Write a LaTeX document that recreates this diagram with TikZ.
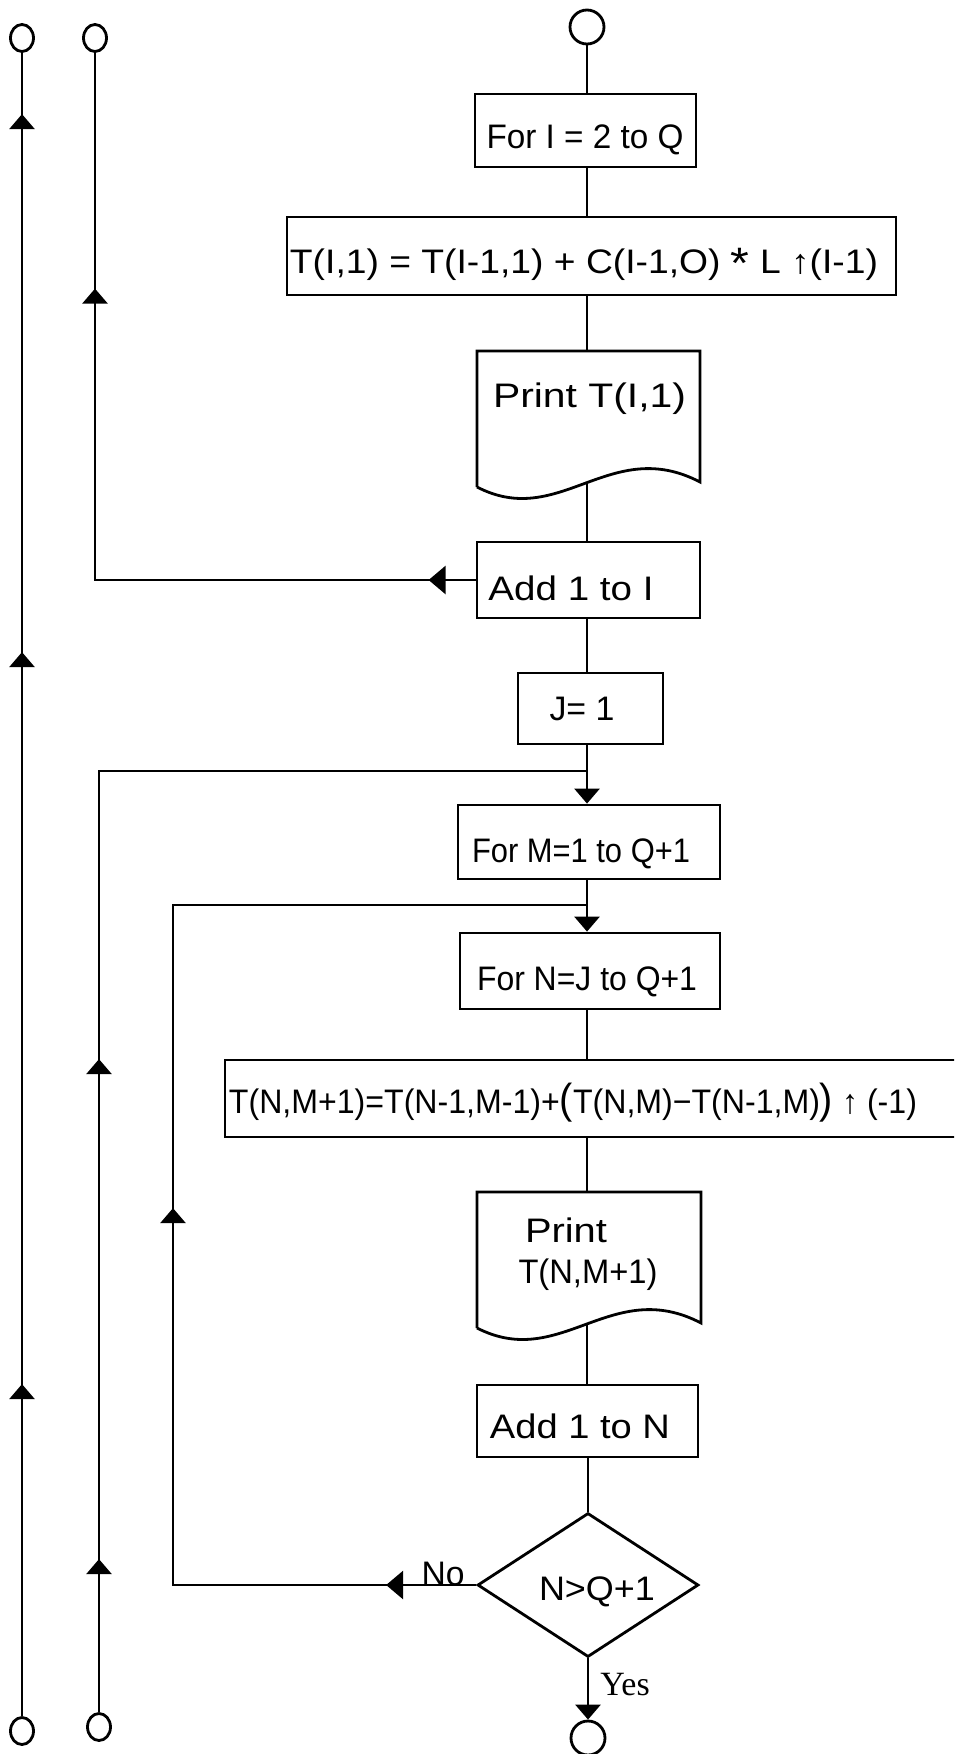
\documentclass[tikz,border=0pt]{standalone}
\usepackage{fontspec}
\setmainfont{Liberation Sans}
\newfontfamily\serifyes{Liberation Serif}
\usetikzlibrary{arrows.meta,shapes.geometric,decorations.markings,calc}
\newcommand{\fitwd}[2]{\resizebox{#1}{\height}{#2}}
\newcommand{\bigp}[1]{{\fontsize{42}{42}\selectfont #1}}
\tikzset{
  uptip/.tip={Triangle[width=25pt,length=15pt]},
  lefttip/.tip={Triangle[width=28pt,length=17pt]},
  fbox/.style={draw,inner sep=0pt},
  conn/.style={draw,circle,inner sep=0pt,minimum size=34pt},
  lconn/.style={draw,ellipse,inner sep=0pt,minimum width=23pt,minimum height=27pt},
  lbl/.style={anchor=base,inner sep=0pt,font=\fontsize{34}{36}\selectfont},
  tip/.style={-{Triangle[width=25pt,length=15pt]}}
}
\begin{document}
\begin{tikzpicture}[x=1pt,y=-1pt,line width=2.8pt]
\useasboundingbox (0,0) rectangle (954,1754);
\clip (0,0) rectangle (954,1754);
\coordinate (mx) at (587,0);
\coordinate (x3) at (173,0);
\coordinate (jM) at (587,771);
\coordinate (jN) at (587,905);

% main column
\node[conn] (topC) at (587,27) {};
\node[fbox,minimum width=221pt,minimum height=73pt] (forI) at (585.5,130.5) {};
\node[lbl] (forIt) at (585,148) {\fitwd{197pt}{For I = 2 to Q}};
\node[fbox,minimum width=609pt,minimum height=78pt] (tI1) at (591.5,256) {};
\node[lbl] (tI1t) at (584,273) {\fitwd{588pt}{T(I,1) = T(I-1,1) + C(I-1,O) \raisebox{-0.3ex}{\fontsize{44}{44}\selectfont *} L ↑(I-1)}};
\node[inner sep=0pt,minimum width=223pt,minimum height=136pt] (printI) at (588.5,419) {};
\draw (477,487) -- (477,351) -- (700,351) -- (700,482) .. controls (610,435) and (560,530) .. (477,487);
\node[lbl] (printIt) at (589.5,407) {\fitwd{193pt}{Print T(I,1)}};
\coordinate (w1) at (587,483);
\node[fbox,minimum width=223pt,minimum height=76pt] (addI) at (588.5,580) {};
\node[lbl] (addIt) at (571,600) {\fitwd{165pt}{Add 1 to I}};
\node[fbox,minimum width=145pt,minimum height=71pt] (J1) at (590.5,708.5) {};
\node[lbl] (J1t) at (582,720) {\fitwd{65pt}{J= 1}};
\node[fbox,minimum width=262pt,minimum height=74pt] (forM) at (589,842) {};
\node[lbl] (forMt) at (581,862) {\fitwd{218pt}{For M=1 to Q+1}};
\node[fbox,minimum width=260pt,minimum height=76pt] (forN) at (590,971) {};
\node[lbl] (forNt) at (587,990) {\fitwd{220pt}{For N=J to Q+1}};
\node[fbox,minimum width=740pt,minimum height=77pt] (form) at (595,1098.5) {};
\node[lbl] (formt) at (573,1113) {\fitwd{688pt}{T(N,M+1)=T(N-1,M-1)+\bigp{(}T(N,M)−T(N-1,M)\bigp{)} ↑ (-1)}};
\node[inner sep=0pt,minimum width=224pt,minimum height=136pt] (printN) at (589,1260) {};
\draw (477,1328) -- (477,1192) -- (701,1192) -- (701,1323) .. controls (611,1276) and (561,1371) .. (477,1328);
\node[lbl] (printNa) at (566,1242) {\fitwd{82pt}{Print}};
\node[lbl] (printNb) at (588,1283) {\fitwd{139pt}{T(N,M+1)}};
\coordinate (w2) at (587,1324);
\node[fbox,minimum width=221pt,minimum height=72pt] (addN) at (587.5,1421) {};
\node[lbl] (addNt) at (580,1438) {\fitwd{180pt}{Add 1 to N}};
\node[fbox,diamond,aspect=1.5,minimum width=221pt,minimum height=144pt] (dec) at (588,1585) {};
\node[lbl] (dect) at (597,1600) {\fitwd{116pt}{N>Q+1}};
\node[conn] (botC) at (588,1738) {};
\node[lbl] (no) at (443,1585) {\fitwd{43pt}{No}};
\node[lbl,font=\serifyes\fontsize{34}{36}\selectfont] (yes) at (625,1695) {Yes};

% main connectors
\draw (topC.south) -- (forI.north -| mx);
\draw (forI.south -| mx) -- (tI1.north -| mx);
\draw (tI1.south -| mx) -- (printI.north -| mx);
\draw (w1) -- (addI.north -| mx);
\draw (addI.south -| mx) -- (J1.north -| mx);
\draw[tip] (J1.south -| mx) -- (forM.north -| mx);
\draw[tip] (forM.south -| mx) -- (forN.north -| mx);
\draw (forN.south -| mx) -- (form.north -| mx);
\draw (form.south -| mx) -- (printN.north -| mx);
\draw (w2) -- (addN.north -| mx);
\draw (addN.south -| dec.north) -- (dec.north);
\draw[tip] (dec.south) -- (botC.north);

% left connectors
\node[lconn] (c1t) at (22,38) {};
\node[lconn] (c1b) at (22,1731) {};
\node[lconn] (c2t) at (95,38) {};
\node[lconn] (c2b) at (99,1727) {};

\draw[postaction={decorate},decoration={markings,
   mark=at position 332pt with {\arrow{uptip}},
   mark=at position 1064pt with {\arrow{uptip}},
   mark=at position 1602pt with {\arrow{uptip}}}]
  (c1b.north) -- (c1t.south);

\draw[postaction={decorate},decoration={markings,
   mark=at position 47pt with {\arrow{lefttip}},
   mark=at position 672pt with {\arrow{uptip}}}]
  (addI.west) -- (addI.west -| c2t) -- (c2t.south);

\draw[postaction={decorate},decoration={markings,
   mark=at position 153pt with {\arrow{uptip}},
   mark=at position 653pt with {\arrow{uptip}}}]
  (c2b.north) -- (c2b.north |- jM) -- (jM);

\draw[postaction={decorate},decoration={markings,
   mark=at position 90pt with {\arrow{lefttip}},
   mark=at position 680pt with {\arrow{uptip}}}]
  (dec.west) -- (dec.west -| x3) -- (jN -| x3) -- (jN);
\end{tikzpicture}
\end{document}
